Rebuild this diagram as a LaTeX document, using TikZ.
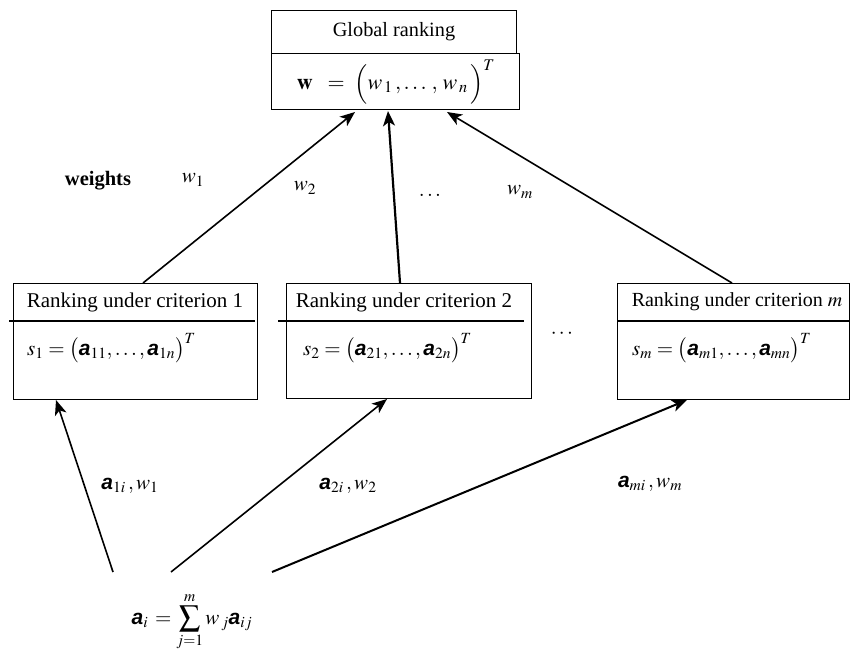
\documentclass[tikz,border=0pt]{standalone}
\usepackage{amsmath}
\usepackage{mathptmx}
\usepackage{fontspec}
\setmainfont{Liberation Serif}
\newfontfamily\sansbold{Liberation Sans}
\usetikzlibrary{arrows.meta}
\newcommand{\ba}{\mbox{\sansbold\bfseries\itshape a}}
\begin{document}
\begin{tikzpicture}[x=1pt,y=-1pt,
  box/.style={draw,line width=0.9pt,inner sep=0pt,anchor=north west},
  txt/.style={inner sep=0pt,font=\fontsize{21}{25}\selectfont},
  conn/.style={line width=1.6pt,-{Stealth[length=15pt,width=12pt,inset=4pt]}},
  divider/.style={line width=1.3pt}]
\useasboundingbox (0,0) rectangle (850,655);
% top box
\node[box,minimum width=245pt,minimum height=43pt] (g1) at (271,10) {};
\node[box,minimum width=248pt,minimum height=56pt] (g2) at (271,53) {};
\node[txt,font=\fontsize{20.3}{24}\selectfont] (gt) at (394,32) {Global ranking};
\node[txt,font=\fontsize{22}{26}\selectfont] (gf) at (396,82) {$\mathbf{w}\;\;=\;\Bigl(w_{\,1}\,,\ldots\,,\,w_{\,n}\,\Bigr)^{T}$};
% criterion boxes
\node[box,minimum width=244pt,minimum height=116pt] (b1) at (13,283) {};
\node[box,minimum width=245pt,minimum height=115pt] (b2) at (286,283) {};
\node[box,minimum width=232pt,minimum height=116pt] (bm) at (617,283) {};
\coordinate (d1a) at (9,321); \coordinate (d1b) at (255,321);
\coordinate (d2a) at (278,321); \coordinate (d2b) at (524,321);
\coordinate (dma) at (617,321); \coordinate (dmb) at (850,321);
\draw[divider] (d1a) -- (d1b);
\draw[divider] (d2a) -- (d2b);
\draw[divider] (dma) -- (dmb);
\node[txt,font=\fontsize{21}{25}\selectfont] (t1) at (135,302) {Ranking under criterion 1};
\node[txt,font=\fontsize{21}{25}\selectfont] (t2) at (404,302) {Ranking under criterion 2};
\node[txt,font=\fontsize{20}{24}\selectfont] (tm) at (737,302) {Ranking under criterion $m$};
\node[txt,anchor=west] (f1) at (27,348) {$s_{1}=\bigl(\ba_{11},\ldots,\ba_{1n}\bigr)^{T}$};
\node[txt,anchor=west] (f2) at (303,348) {$s_{2}=\bigl(\ba_{21},\ldots,\ba_{2n}\bigr)^{T}$};
\node[txt,anchor=west] (fm) at (632,348) {$s_{m}=\bigl(\ba_{m1},\ldots,\ba_{mn}\bigr)^{T}$};
\node[txt] (dots1) at (563,334) {$\cdots$};
% weights row
\node[txt,font=\fontsize{20.5}{24}\selectfont\bfseries] (wl) at (98,181) {weights};
\node[txt] (w1) at (193,180) {$w_{1}$};
\node[txt] (w2) at (305,188) {$w_{2}$};
\node[txt] (dots2) at (430,195) {$\ldots$};
\node[txt] (wm) at (520,192) {$w_{m}$};
% top arrows
\coordinate (s1) at (143,283); \coordinate (e1) at (355,112);
\coordinate (s2) at (400,283); \coordinate (e2) at (388,111);
\coordinate (sm) at (732,283); \coordinate (em) at (447,112);
\draw[conn] (s1) -- (e1);
\draw[conn,line width=2.2pt] (s2) -- (e2);
\draw[conn] (sm) -- (em);
% bottom arrows
\coordinate (p1) at (113,572); \coordinate (q1) at (56,400);
\coordinate (p2) at (171,572); \coordinate (q2) at (387,399);
\coordinate (pm) at (272,572); \coordinate (qm) at (687,400);
\draw[conn] (p1) -- (q1);
\draw[conn] (p2) -- (q2);
\draw[conn,line width=2pt] (pm) -- (qm);
\node[txt] (l1) at (130,486) {$\ba_{1i}\,,w_{1}$};
\node[txt] (l2) at (348,486) {$\ba_{2i}\,,w_{2}$};
\node[txt] (lm) at (650,484) {$\ba_{mi}\,,w_{m}$};
% formula
\node[txt] (fa) at (192,622) {$\displaystyle\ba_{i}\,=\sum_{j=1}^{m}w_{\,j}\ba_{ij}$};
\end{tikzpicture}
\end{document}
